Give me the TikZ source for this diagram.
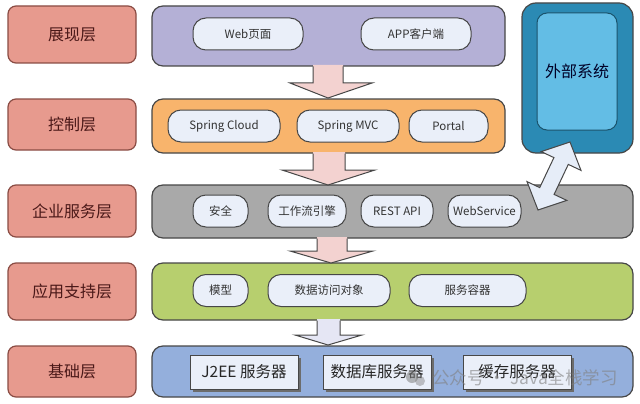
\documentclass[tikz,border=0pt]{standalone}
\usepackage{fontspec}
\setmainfont{Noto Sans CJK SC}
\definecolor{lblfill}{HTML}{E79A8E}
\definecolor{lbldraw}{HTML}{8A4C44}
\definecolor{lbltext}{HTML}{4A1818}
\definecolor{bandA}{HTML}{B4B0D6}
\definecolor{bandB}{HTML}{F8B46C}
\definecolor{bandC}{HTML}{A9A9A9}
\definecolor{bandD}{HTML}{B7CF6E}
\definecolor{bandE}{HTML}{94AFDC}
\definecolor{pillfill}{HTML}{EAEFF9}
\definecolor{edge}{HTML}{474747}
\definecolor{extout}{HTML}{2B8AB4}
\definecolor{extin}{HTML}{63BDE5}
\definecolor{arrpink}{HTML}{F3D2D0}
\definecolor{arrlav}{HTML}{E5E6F4}
\definecolor{arrblue}{HTML}{E6EDF8}
\begin{document}
\begin{tikzpicture}[x=1pt,y=-1pt,
  lbl/.style={draw=lbldraw,fill=lblfill,line width=1.2pt,rounded corners=8pt,text=lbltext,font=\fontsize{16}{18}\selectfont,minimum width=128pt,inner sep=0pt},
  band/.style={draw=edge,line width=1.2pt,rounded corners=11pt,inner sep=0pt},
  pill/.style={draw=edge,fill=pillfill,line width=1pt,rounded corners=13pt,minimum height=32pt,inner sep=0pt,text=black!80,font=\fontsize{11.5}{13}\selectfont},
  srv/.style={draw=edge,fill=pillfill,line width=1pt,minimum height=34pt,minimum width=108pt,inner sep=0pt,text=black!85,font=\fontsize{15.5}{17}\selectfont},
  shadowbox/.style={fill=edge!80,minimum height=34pt,minimum width=108pt,inner sep=0pt},
  blockarr/.style={draw=edge,line width=1pt,line join=miter}
]
\useasboundingbox (0,0) rectangle (640,404);
\fill[white] (0,0) rectangle (640,404);

% layer labels
\node[lbl,minimum height=57pt] (l1) at (72,34.5) {展现层};
\node[lbl,minimum height=51pt] (l2) at (72,124.5) {控制层};
\node[lbl,minimum height=52pt] (l3) at (72,211) {企业服务层};
\node[lbl,minimum height=57pt] (l4) at (72,291.5) {应用支持层};
\node[lbl,minimum height=51pt] (l5) at (72,371.5) {基础层};

% bands
\node[band,fill=bandA,minimum width=353pt,minimum height=60pt] (b1) at (328.5,36) {};
\node[band,fill=bandB,minimum width=353pt,minimum height=54pt] (b2) at (328.5,126) {};
\node[band,fill=bandC,minimum width=481pt,minimum height=53pt] (b3) at (392.5,211.5) {};
\node[band,fill=bandD,minimum width=481pt,minimum height=57pt] (b4) at (392.5,291.5) {};
\node[band,fill=bandE,minimum width=481pt,minimum height=51pt] (b5) at (392.5,371.5) {};

% external system
\node[draw=edge,fill=extout,line width=1.2pt,rounded corners=14pt,minimum width=111pt,minimum height=150pt,inner sep=0pt] (ext) at (577.5,78) {};
\node[draw=extout!60!black,fill=extin,line width=1pt,rounded corners=10pt,minimum width=80pt,minimum height=117pt,inner sep=0pt,text=black!85!blue,font=\fontsize{16}{18}\selectfont] (exti) at (577,71.5) {外部系统};

% pills
\node[pill,minimum width=110pt] (web) at (248,34) {Web页面};
\node[pill,minimum width=110pt] (app) at (416,34) {APP客户端};
\node[pill,minimum width=112pt] (sc) at (224,126) {Spring Cloud};
\node[pill,minimum width=102pt] (smvc) at (348,126) {Spring MVC};
\node[pill,minimum width=79pt] (portal) at (448.5,126) {Portal};
\node[pill,minimum width=55pt] (sec) at (220.5,211) {安全};
\node[pill,minimum width=78pt] (wf) at (307,211) {工作流引擎};
\node[pill,minimum width=72pt] (rest) at (397,211) {REST API};
\node[pill,minimum width=73pt] (ws) at (484.5,211) {WebService};
\node[pill,minimum width=55pt] (model) at (220.5,290.5) {模型};
\node[pill,minimum width=122pt] (dao) at (329,290.5) {数据访问对象};
\node[pill,minimum width=117pt] (cont) at (467.5,290.5) {服务容器};

% server boxes
\node[shadowbox] at (246.5,374.5) {};
\node[srv] (j2ee) at (244,372) {J2EE 服务器};
\node[shadowbox] at (379.5,374.5) {};
\node[srv] (db) at (377,372) {数据库服务器};
\node[shadowbox] at (519.5,374.5) {};
\node[srv] (cache) at (517,372) {缓存服务器};

% down block arrows
\fill[arrpink] (313,65)--(313,83)--(290,83)--(328,98)--(372,83)--(343,83)--(343,65)--cycle;
\draw[blockarr] (313,66.5)--(313,83)--(290,83)--(328,98)--(372,83)--(343,83)--(343,66.5);
\fill[arrpink] (313,152)--(313,170)--(282,170)--(328,185)--(375,170)--(345,170)--(345,152)--cycle;
\draw[blockarr] (313,153.5)--(313,170)--(282,170)--(328,185)--(375,170)--(345,170)--(345,153.5);
\fill[arrpink] (317,237)--(317,251)--(290,251)--(331,263)--(373,251)--(347,251)--(347,237)--cycle;
\draw[blockarr] (317,238.5)--(317,251)--(290,251)--(331,263)--(373,251)--(347,251)--(347,238.5);
\fill[arrlav] (317,319)--(317,335)--(295,335)--(328,345)--(362,335)--(340,335)--(340,319)--cycle;
\draw[blockarr] (317,320.5)--(317,335)--(295,335)--(328,345)--(362,335)--(340,335)--(340,320.5);

% double arrow between external system and enterprise layer
\draw[blockarr,fill=arrblue] (538,210)--(566.8,200.4)--(554.1,194.4)--(568.3,164.4)--(581.0,170.4)--(570,142)--(541.2,151.6)--(553.9,157.6)--(539.7,187.6)--(527.0,181.6)--cycle;

% watermark
\fill[gray,opacity=0.55] (412,377) circle (6pt);
\fill[gray,opacity=0.45] (420,381) circle (5pt);
\node[text=gray,opacity=0.6,font=\fontsize{17.5}{20}\selectfont,inner sep=0pt,anchor=west] (wm) at (432,378) {公众号 · Java全栈学习};
\end{tikzpicture}
\end{document}
